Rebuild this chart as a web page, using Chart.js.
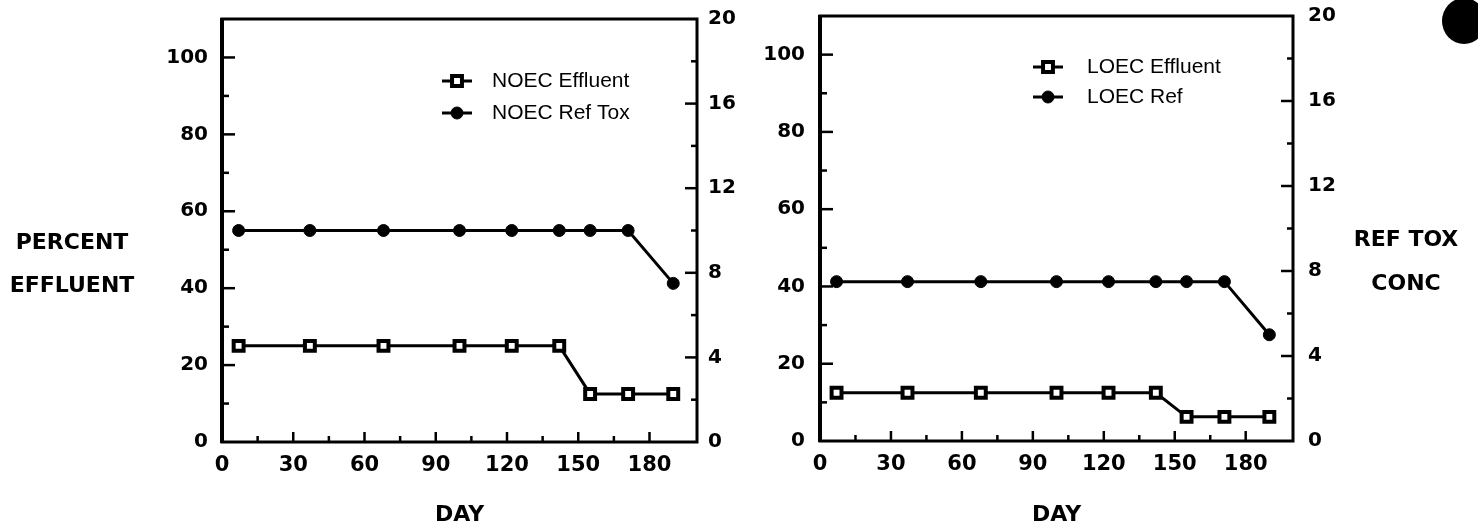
<!DOCTYPE html>
<html>
<head>
<meta charset="utf-8">
<script src="https://cdn.jsdelivr.net/npm/chart.js"></script>
<style>
  html, body { margin: 0; padding: 0; background: #fff; }
  body { width: 1478px; height: 529px; position: relative; overflow: hidden; }
  canvas { position: absolute; top: 0; }
  #noecChart { left: 0; }
  #loecChart { left: 750px; }
  .side { position: absolute; font: bold 22px 'DejaVu Sans', sans-serif; text-align: center; color: #000; }
  #pctLabel { left: 0; top: 220px; width: 144px; line-height: 43px; }
  #concLabel { left: 1346px; top: 217px; width: 120px; line-height: 44px; }
  #hole { position: absolute; left: 1442px; top: -2px; width: 44px; height: 46px; border-radius: 50%; background: #000; }
</style>
</head>
<body>
<canvas id="noecChart" width="750" height="529"></canvas>
<canvas id="loecChart" width="728" height="529"></canvas>
<div class="side" id="pctLabel">PERCENT<br>EFFLUENT</div>
<div class="side" id="concLabel">REF TOX<br>CONC</div>
<div id="hole"></div>
<script>
// ===== data =====
const days = [7, 37, 68, 100, 122, 142, 155, 171, 190];
const noecEffluent = [25, 25, 25, 25, 25, 25, 12.5, 12.5, 12.5];
const noecRefTox = [10, 10, 10, 10, 10, 10, 10, 10, 7.5];
const loecEffluent = [12.5, 12.5, 12.5, 12.5, 12.5, 12.5, 6.25, 6.25, 6.25];
const loecRef = [7.5, 7.5, 7.5, 7.5, 7.5, 7.5, 7.5, 7.5, 5];

const dayTicks = [0, 30, 60, 90, 120, 150, 180];
const pctTicks = [0, 20, 40, 60, 80, 100];
const concTicks = [0, 4, 8, 12, 16, 20];

const toPoints = vals => days.map((d, i) => ({ x: d, y: vals[i] }));

// frame + inward tick marks, like the old plotter output
const frameTicks = {
    id: 'frameTicks',
    beforeDatasetsDraw(chart) {
        const { ctx, chartArea: a, scales } = chart;
        ctx.save();
        ctx.strokeStyle = '#000';
        ctx.lineWidth = 3;
        ctx.strokeRect(a.left, a.top, a.right - a.left, a.bottom - a.top);
        ctx.lineWidth = 4;
        ctx.beginPath(); ctx.moveTo(a.left, a.top - 1); ctx.lineTo(a.left, a.bottom + 1); ctx.stroke();

        ctx.lineWidth = 2.5;
        const marks = (scale, major, draw) => {
            scale.ticks.forEach(t => {
                const v = t.value;
                if (v === scale.min || v === scale.max) return;
                draw(scale.getPixelForValue(v), v % major === 0);
            });
        };
        marks(scales.x, 30, (px, big) => {
            ctx.beginPath(); ctx.moveTo(px, a.bottom); ctx.lineTo(px, a.bottom - (big ? 10 : 6)); ctx.stroke();
        });
        marks(scales.y, 20, (py, big) => {
            ctx.beginPath(); ctx.moveTo(a.left, py); ctx.lineTo(a.left + (big ? 13 : 7), py); ctx.stroke();
        });
        marks(scales.y2, 4, (py, big) => {
            ctx.beginPath(); ctx.moveTo(a.right, py); ctx.lineTo(a.right - (big ? 12 : 6), py); ctx.stroke();
        });
        ctx.restore();
    }
};

// legend with a short line sample and the marker in the middle
const lineLegend = {
    id: 'lineLegend',
    afterDraw(chart, args, opts) {
        const ctx = chart.ctx;
        ctx.save();
        chart.data.datasets.forEach((ds, i) => {
            const y = opts.y + i * opts.gap;
            const cx = opts.x + 15;
            ctx.strokeStyle = '#000';
            ctx.lineWidth = ds.borderWidth;
            ctx.beginPath(); ctx.moveTo(opts.x, y); ctx.lineTo(opts.x + 30, y); ctx.stroke();
            ctx.lineWidth = ds.pointBorderWidth;
            ctx.fillStyle = ds.pointBackgroundColor;
            ctx.beginPath();
            if (ds.pointStyle === 'rect') {
                const s = ds.pointRadius * Math.SQRT1_2;
                ctx.rect(cx - s, y - s, 2 * s, 2 * s);
            } else {
                ctx.arc(cx, y, ds.pointRadius, 0, Math.PI * 2);
            }
            ctx.fill(); ctx.stroke();
            ctx.fillStyle = '#000';
            ctx.font = opts.font;
            ctx.textBaseline = 'middle';
            ctx.fillText(ds.label, opts.x + opts.textOff, y);
        });
        ctx.restore();
    }
};

function effluentSet(label, vals) {
    return {
        label, data: toPoints(vals), yAxisID: 'y',
        borderColor: '#000', borderWidth: 3,
        pointStyle: 'rect', pointRadius: 7, pointBorderWidth: 4,
        pointBackgroundColor: '#fff', pointBorderColor: '#000',
    };
}

function refSet(label, vals) {
    return {
        label, data: toPoints(vals), yAxisID: 'y2',
        borderColor: '#000', borderWidth: 3,
        pointStyle: 'circle', pointRadius: 6, pointBorderWidth: 1,
        pointBackgroundColor: '#000', pointBorderColor: '#000',
    };
}

function makeChart(canvasId, datasets, lay) {
    const tickFont = { family: 'DejaVu Sans', size: 20, weight: 'bold' };
    const noPad = s => { s.paddingTop = 0; s.paddingBottom = 0; };
    return new Chart(document.getElementById(canvasId), {
        type: 'line',
        data: { datasets },
        plugins: [frameTicks, lineLegend],
        options: {
            responsive: false,
            animation: false,
            layout: { padding: { top: lay.top, left: 0, right: 0, bottom: 0 } },
            scales: {
                x: {
                    type: 'linear', min: 0, max: 200,
                    grid: { display: false, drawTicks: false },
                    border: { display: false },
                    ticks: {
                        stepSize: 15, autoSkip: false, maxRotation: 0, padding: 11,
                        color: '#000', font: { family: 'DejaVu Sans', size: 21, weight: 'bold' },
                        callback: v => dayTicks.includes(v) ? v : '',
                    },
                    title: {
                        display: true, text: 'DAY', color: '#000',
                        font: { family: 'DejaVu Sans', size: 22, weight: 'bold' },
                        padding: { top: 0, bottom: 1 },
                    },
                    afterFit: s => { s.height = lay.xHeight; },
                },
                y: {
                    position: 'left', min: 0, max: 110,
                    grid: { display: false, drawTicks: false },
                    border: { display: false },
                    ticks: {
                        stepSize: 10, autoSkip: false, padding: lay.leftPad,
                        color: '#000', font: tickFont,
                        callback: v => pctTicks.includes(v) ? v : '',
                    },
                    afterFit: s => { s.width = lay.leftW; noPad(s); },
                },
                y2: {
                    position: 'right', min: 0, max: 20,
                    grid: { display: false, drawTicks: false },
                    border: { display: false },
                    ticks: {
                        stepSize: 2, autoSkip: false, padding: lay.rightPad,
                        color: '#000', font: tickFont,
                        callback: v => concTicks.includes(v) ? v : '',
                    },
                    afterFit: s => { s.width = lay.rightW; noPad(s); },
                },
            },
            plugins: {
                legend: { display: false },
                tooltip: { enabled: false },
                lineLegend: {
                    x: lay.legX, y: lay.legY, gap: lay.legGap, textOff: lay.legText,
                    font: '21px "Liberation Sans", Arial, sans-serif',
                },
            },
        },
    });
}

makeChart('noecChart', [
    effluentSet('NOEC Effluent', noecEffluent),
    refSet('NOEC Ref Tox', noecRefTox),
], { top: 19, xHeight: 87, leftW: 222, rightW: 53, leftPad: 14, rightPad: 11, legX: 442, legY: 81, legGap: 32, legText: 50 });

makeChart('loecChart', [
    effluentSet('LOEC Effluent', loecEffluent),
    refSet('LOEC Ref', loecRef),
], { top: 16, xHeight: 88, leftW: 70, rightW: 185, leftPad: 15, rightPad: 15, legX: 283, legY: 67, legGap: 30, legText: 54 });
</script>
</body>
</html>
